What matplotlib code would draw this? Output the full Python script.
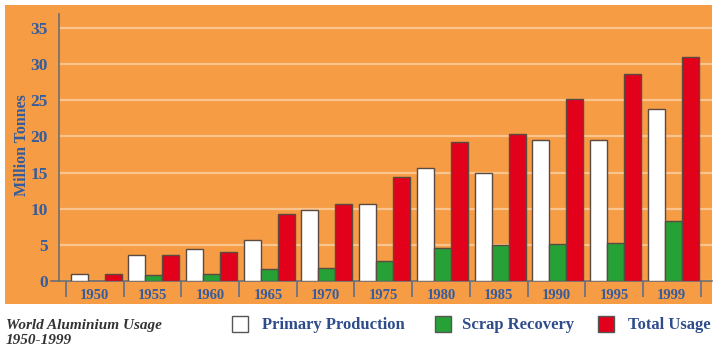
import matplotlib
matplotlib.use("Agg")
import matplotlib.pyplot as plt
from matplotlib.patches import Rectangle
import numpy as np

years = ["1950", "1955", "1960", "1965", "1970", "1975", "1980", "1985", "1990", "1995", "1999"]
primary = [1.0, 3.6, 4.4, 5.7, 9.8, 10.6, 15.6, 15.0, 19.5, 19.5, 23.8]
scrap = [0.0, 0.8, 1.0, 1.6, 1.8, 2.7, 4.5, 5.0, 5.1, 5.3, 8.3]
total = [1.0, 3.6, 4.0, 9.2, 10.6, 14.4, 19.2, 20.4, 25.2, 28.6, 31.0]
series_names = ["Primary Production", "Scrap Recovery", "Total Usage"]
yticks = [0, 5, 10, 15, 20, 25, 30, 35]

ORANGE = "#F59C45"
GRID = "#F9C48E"
BLUE = "#365C9C"
AXGRAY = "#6E6E72"
EDGE = "#5A4A40"
colors = ["#FFFFFF", "#26A136", "#E2001B"]

W, H = 716, 348
fig = plt.figure(figsize=(W / 100, H / 100), dpi=100)
fig.patch.set_facecolor("white")

# orange panel
fig.patches.append(Rectangle((5 / W, (H - 304) / H), 707 / W, 299 / H,
                             transform=fig.transFigure, facecolor=ORANGE,
                             edgecolor="none", zorder=-5))

ax = fig.add_axes([59 / W, (H - 281) / H, (712 - 59) / W, (281 - 14) / H])
ax.set_facecolor("none")
ax.set_zorder(2)

n = len(years)
x = np.arange(n)
bw = 0.295
start = 0.08
for k, (vals, c) in enumerate(zip([primary, scrap, total], colors)):
    ax.bar(x + start + bw * (k + 0.5), vals, width=bw, color=c,
           edgecolor=EDGE, linewidth=1.0, zorder=3)

ax.set_xlim(-0.121, 11.196)
ax.set_ylim(0, (281 - 14) / 7.23)

ax.set_yticks(yticks)
ax.set_yticklabels([str(v) for v in yticks])
ax.yaxis.grid(True, color=GRID, linewidth=1.6, zorder=1)
ax.set_axisbelow(True)
ax.tick_params(axis="y", length=0, pad=8, labelcolor=BLUE)
for lab in ax.get_yticklabels():
    lab.set_fontfamily("Liberation Serif")
    lab.set_fontweight("bold")
    lab.set_fontsize(12.5)

ax.set_xticks(np.arange(n + 1))
ax.set_xticklabels([])
ax.set_xticks(x + 0.5, minor=True)
ax.set_xticklabels(years, minor=True)
ax.tick_params(axis="x", which="major", direction="out", length=11.5,
               width=1.2, color="#5D7090")
ax.tick_params(axis="x", which="minor", length=0, pad=6, labelcolor=BLUE)
for lab in ax.get_xticklabels(minor=True):
    lab.set_fontfamily("Liberation Serif")
    lab.set_fontweight("bold")
    lab.set_fontsize(10.5)

for s in ["top", "right"]:
    ax.spines[s].set_visible(False)
for s in ["left", "bottom"]:
    ax.spines[s].set_color(AXGRAY)
    ax.spines[s].set_linewidth(1.2)
ax.plot([-0.012, 0], [0, 0], transform=ax.transAxes, clip_on=False,
        color=AXGRAY, lw=1.2)

ax.set_ylabel("Million Tonnes", fontfamily="Liberation Serif", fontweight="bold",
              fontsize=11.5, color=BLUE)
ax.yaxis.set_label_coords(-(59 - 30) / (712 - 59), (281 - 145) / (281 - 14))

# caption
cap_kw = dict(fontfamily="Liberation Serif", fontstyle="italic", fontweight="bold",
              fontsize=11, color="#333333", va="center", ha="left")
fig.text(6 / W, 1 - 326 / H, "World Aluminium Usage", **cap_kw)
fig.text(6 / W, 1 - 340 / H, "1950-1999", **cap_kw)

# legend
legend_boxes = [232, 435, 598]
legend_texts = [262, 462, 628]
for bx, tx, name, c in zip(legend_boxes, legend_texts, series_names, colors):
    fig.patches.append(Rectangle((bx / W, 1 - 332 / H), 16 / W, 16 / H,
                                 transform=fig.transFigure, facecolor=c,
                                 edgecolor="#555555", linewidth=1.0))
    fig.text(tx / W, 1 - 325 / H, name, fontfamily="Liberation Serif",
             fontweight="bold", fontsize=12, color="#2E4C8C",
             va="center", ha="left")

fig.savefig("out.png", dpi=100, facecolor="white")
